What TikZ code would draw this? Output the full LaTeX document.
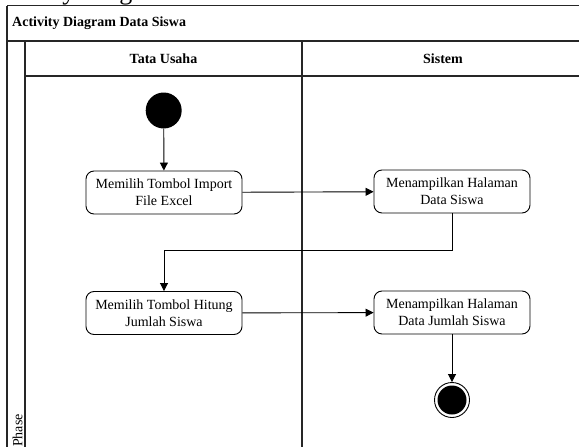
\documentclass[tikz,border=0pt]{standalone}
\usepackage{fontspec}
\setmainfont{Liberation Serif}
\usetikzlibrary{arrows.meta}
\tikzset{
  frameline/.style={draw=black!85, line width=1.3pt},
  actbox/.style={draw, line width=0.9pt, rounded corners=8pt, minimum width=156pt, minimum height=43pt, align=center, inner sep=2pt, font=\fontsize{14}{16.6}\selectfont},
  arr/.style={draw, line width=0.9pt, -{Triangle[length=8pt,width=8pt]}},
  hdr/.style={font=\fontsize{14}{16}\selectfont\bfseries, inner sep=0pt},
}
\begin{document}
\begin{tikzpicture}[x=1pt,y=-1pt]
\useasboundingbox (0,0) rectangle (579,447);
% clipped caption above frame
\node[anchor=base west, inner sep=0pt, font=\fontsize{26}{30}\selectfont] (cap) at (-10,-1) {Activity Diagram};
% frame
\draw[frameline] (7,5.5) -- (600,5.5);
\draw[frameline] (7,5.5) -- (7,470);
\draw[frameline] (7,41) -- (600,41);
\draw[frameline] (25,41) -- (25,470);
\draw[frameline] (25,76) -- (600,76);
\draw[frameline] (302,41) -- (302,470);
% labels
\node[hdr, anchor=west] (title) at (12,23.5) {Activity Diagram Data Siswa};
\node[hdr] (lane1) at (163.5,58.5) {Tata Usaha};
\node[hdr] (lane2) at (443,58.5) {Sistem};
\node[rotate=90, anchor=west, inner sep=0pt, font=\fontsize{14}{16}\selectfont] (phase) at (17.5,447) {Phase};
% nodes
\node[circle, fill=black, minimum size=36pt, inner sep=0pt] (start) at (163.7,110.5) {};
\node[actbox] (b1) at (164,192.5) {Memilih Tombol Import\\File Excel};
\node[actbox] (b2) at (452,191.5) {Menampilkan Halaman\\Data Siswa};
\node[actbox] (b3) at (164,313) {Memilih Tombol Hitung\\Jumlah Siswa};
\node[actbox] (b4) at (452,312.5) {Menampilkan Halaman\\Data Jumlah Siswa};
\node[circle, draw, line width=0.9pt, minimum size=35pt, inner sep=0pt] (end) at (452,400) {};
\fill (end.center) circle (14.5pt);
\coordinate (k) at (164,250);
% connectors
\draw[arr] (start) -- (b1);
\draw[arr] (b1) -- (b2);
\draw[arr] (b2.south) |- (k) -- (b3.north);
\draw[arr] (b3) -- (b4);
\draw[arr] (b4) -- (end);
\end{tikzpicture}
\end{document}
